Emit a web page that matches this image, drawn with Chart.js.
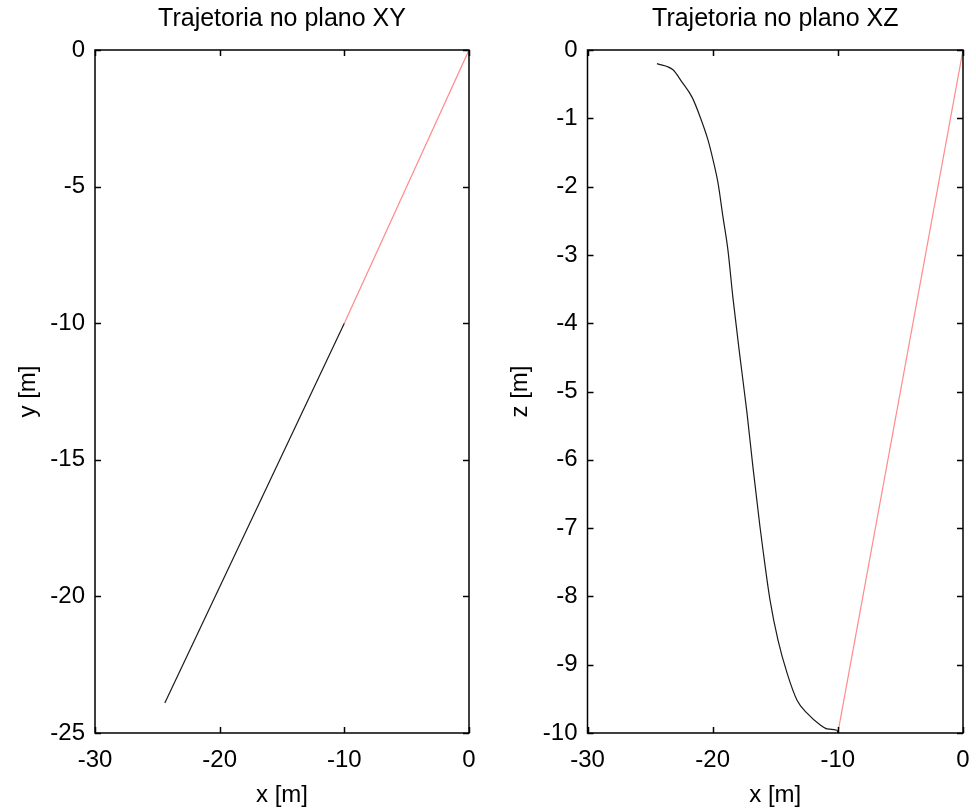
<!DOCTYPE html>
<html lang="pt">
  <head>
    <title>Trajetoria</title>
    <style>
      body { margin: 0; background: #fff; }
      .wrap { position: absolute; top: 0; }
    </style>
  </head>
  <body>
    <div class="wrap" style="left:0"><canvas id="xyCanvas" width="488" height="810"></canvas></div>
    <div class="wrap" style="left:490px"><canvas id="xzCanvas" width="486" height="810"></canvas></div>
    <script src="https://cdn.jsdelivr.net/npm/chart.js"></script>
    <script>
      // trajectory, plano XY
      let xyTrajX = [-24.4, -10];
      let xyTrajY = [-23.9, -10];
      let xyRefX = [-10, 0];
      let xyRefY = [-10, 0];

      // trajectory, plano XZ
      let xzTrajX = [-24.45, -23.17, -22.45, -21.65, -21.0, -20.37, -19.97, -19.57, -19.18, -18.78, -18.38,
        -17.82, -17.26, -16.78, -16.22, -15.98, -15.42, -14.78, -14.06, -13.26, -12.46, -11.42, -10.86, -10.06, -10];
      let xzTrajZ = [-0.2, -0.29, -0.47, -0.69, -0.98, -1.32, -1.61, -1.95, -2.44, -2.93, -3.63,
        -4.49, -5.31, -6.11, -6.98, -7.32, -8.05, -8.64, -9.12, -9.52, -9.71, -9.88, -9.94, -9.96, -10];
      let xzRefX = [-10, 0];
      let xzRefZ = [-10, 0];

      let xTicks = [-30, -20, -10, 0];
      let yTicksXY = [-25, -20, -15, -10, -5, 0];
      let zTicksXZ = [-10, -9, -8, -7, -6, -5, -4, -3, -2, -1, 0];

      Chart.defaults.font.family = "'Liberation Sans', Arial, sans-serif";
      Chart.defaults.font.size = 24;
      Chart.defaults.color = "#000";
      Chart.defaults.plugins.legend.display = false;
      Chart.defaults.plugins.tooltip.enabled = false;
      Chart.defaults.animation = false;

      let pts = function (xs, ys) {
        return xs.map((x, i) => ({ x: x, y: ys[i] }));
      };

      // matlab style box with ticks pointing inside
      let boxTicks = {
        id: "boxTicks",
        afterDatasetsDraw(chart) {
          let ctx = chart.ctx;
          let a = chart.chartArea;
          let len = 6;
          ctx.save();
          ctx.strokeStyle = "#000";
          ctx.lineWidth = 1.5;
          ctx.strokeRect(a.left, a.top, a.right - a.left, a.bottom - a.top);
          ctx.beginPath();
          chart.scales.x.ticks.forEach((t) => {
            let px = Math.round(chart.scales.x.getPixelForValue(t.value)) + 0.5;
            ctx.moveTo(px, a.bottom); ctx.lineTo(px, a.bottom - len);
            ctx.moveTo(px, a.top); ctx.lineTo(px, a.top + len);
          });
          chart.scales.y.ticks.forEach((t) => {
            let py = Math.round(chart.scales.y.getPixelForValue(t.value)) + 0.5;
            ctx.moveTo(a.left, py); ctx.lineTo(a.left + len, py);
            ctx.moveTo(a.right, py); ctx.lineTo(a.right - len, py);
          });
          ctx.stroke();
          ctx.restore();
        },
      };

      let makeChart = function (id, title, yLabel, yTicks, yWidth, padRight, yTitlePad, data) {
        new Chart(document.getElementById(id), {
          type: "scatter",
          data: { datasets: data },
          plugins: [boxTicks],
          options: {
            responsive: false,
            devicePixelRatio: 1,
            layout: { padding: { left: 0, right: padRight, top: 0, bottom: 0 } },
            elements: { point: { radius: 0 } },
            plugins: {
              title: {
                display: true,
                text: title,
                fullSize: false,
                font: { size: 25, weight: "normal" },
                padding: { top: 4, bottom: 16 },
              },
            },
            scales: {
              x: {
                type: "linear",
                min: -30,
                max: 0,
                afterBuildTicks: (s) => { s.ticks = xTicks.map((v) => ({ value: v })); },
                afterFit: (s) => { s.height = 77; s.paddingLeft = 0; s.paddingRight = 0; },
                grid: { display: false, drawTicks: false },
                border: { display: false },
                ticks: { padding: 13, maxRotation: 0 },
                title: { display: true, text: "x [m]", padding: { top: 1, bottom: 0 } },
              },
              y: {
                type: "linear",
                min: yTicks[0],
                max: 0,
                afterBuildTicks: (s) => { s.ticks = yTicks.map((v) => ({ value: v })); },
                afterFit: (s) => { s.width = yWidth; s.paddingTop = 0; s.paddingBottom = 0; },
                grid: { display: false, drawTicks: false },
                border: { display: false },
                ticks: { padding: 10 },
                title: { display: true, text: yLabel, padding: { top: yTitlePad, bottom: 0 } },
              },
            },
          },
        });
      };

      makeChart("xyCanvas", "Trajetoria no plano XY", "y [m]", yTicksXY, 95, 19, 14, [
        { label: "trajetoria", data: pts(xyTrajX, xyTrajY), showLine: true, borderColor: "#1a1a1a", borderWidth: 1.2 },
        { label: "referencia", data: pts(xyRefX, xyRefY), showLine: true, borderColor: "rgba(255,60,60,0.6)", borderWidth: 1.2 },
      ]);

      makeChart("xzCanvas", "Trajetoria no plano XZ", "z [m]", zTicksXZ, 97.5, 13, 15.6, [
        { label: "trajetoria", data: pts(xzTrajX, xzTrajZ), showLine: true, cubicInterpolationMode: "monotone", borderColor: "#1a1a1a", borderWidth: 1.2 },
        { label: "referencia", data: pts(xzRefX, xzRefZ), showLine: true, borderColor: "rgba(255,60,60,0.6)", borderWidth: 1.2 },
      ]);
    </script>
  </body>
</html>
